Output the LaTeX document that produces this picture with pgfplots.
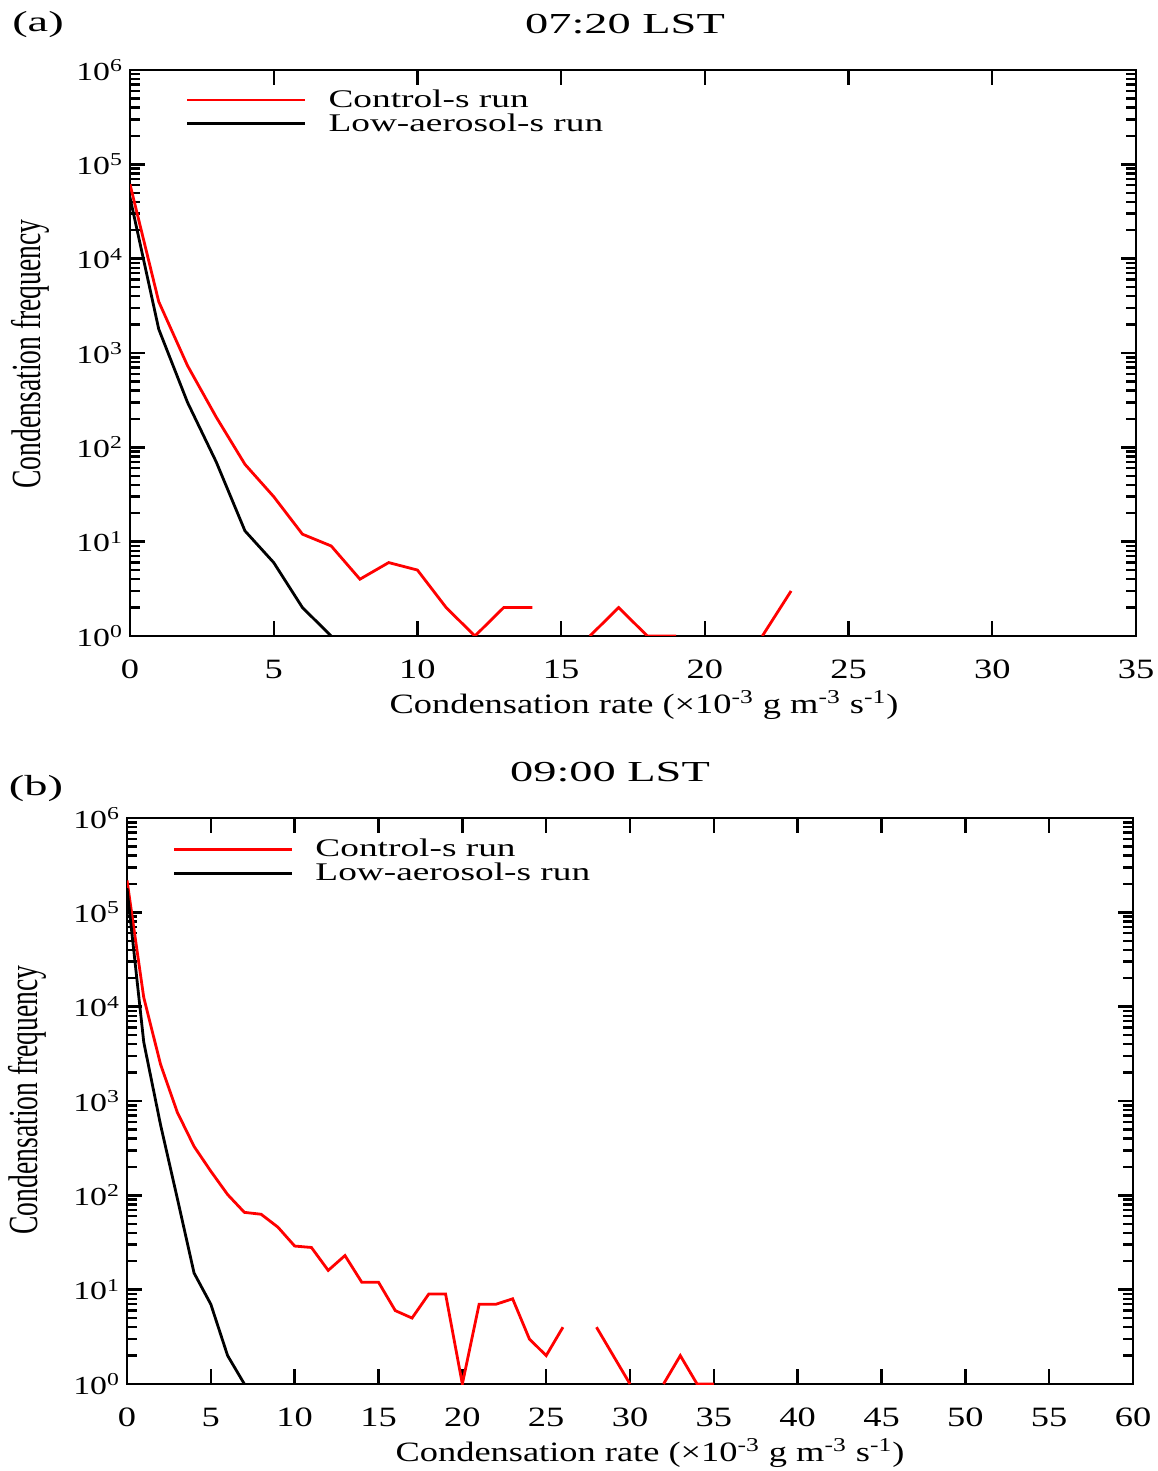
\documentclass[border=0pt]{standalone}
\usepackage{fontspec}
\setmainfont{Liberation Serif}[FakeStretch=1.3]
\newfontfamily\legfont{Liberation Serif}[FakeStretch=1.47]
\newfontfamily\titfont{Liberation Serif}[FakeStretch=1.6]
\newfontfamily\plainserif{Liberation Serif}
\usepackage{graphicx}
\usepackage{pgfplots}
\pgfplotsset{compat=1.18}
\pgfplotsset{
  legend image code/.code={\draw[#1] (0pt,0pt) -- (59pt,0pt);},
}
\begin{document}
\begin{tikzpicture}
\path[use as bounding box] (0,0) rectangle (578.5pt,735.5pt);
% Panel (a)
\begin{axis}[
    ymode=log, ymin=1, ymax=1e6,
    scale only axis, width=503pt, height=283pt,
    anchor=south west, at={(65pt,417.5pt)},
    xmin=0, xmax=35, xtick={0,5,...,35},
    axis line style={line width=1.4pt},
    tick style={line width=1.2pt, black},
    major tick length=7.5pt, minor tick length=5pt,
    tick align=inside,
    ytick={1,10,100,1000,10000,100000,1000000},
    yticklabels={10\textsuperscript{0},10\textsuperscript{1},10\textsuperscript{2},10\textsuperscript{3},10\textsuperscript{4},10\textsuperscript{5},10\textsuperscript{6}},
    xticklabel={\pgfmathprintnumber[assume math mode=true]{\tick}},
    xticklabel style={font=\fontsize{14}{16}\selectfont, yshift=-8.5pt},
    yticklabel style={font=\fontsize{13}{15}\selectfont},
    unbounded coords=jump,
    legend cell align=left,
    legend style={draw=none, fill=none, inner sep=0pt, row sep=1.6pt,
      font=\legfont\fontsize{12.7}{14}\selectfont,
      nodes={inner sep=0pt},
      /tikz/every odd column/.append style={column sep=11pt},
      at={(0.055,0.966)}, anchor=north west},
  ]
\addplot[red, line width=1.4pt] coordinates {
(0,61500) (1,3500) (2,735) (3,209) (4,66) (5,30) (6,12) (7,9) (8,4) (9,6)
(10,5) (11,2) (12,1) (13,2) (14,2) (15,nan) (16,1) (17,2) (18,1) (19,1)
(20,nan) (21,nan) (22,1) (23,3)};
\addlegendentry{Control-s run}
\addplot[black, line width=1.4pt] coordinates {
(0,44500) (1,1790) (2,300) (3,70) (4,13) (5,6) (6,2) (7,1)};
\addlegendentry{Low-aerosol-s run}
\end{axis}
% Panel (b)
\begin{axis}[
    ymode=log, ymin=1, ymax=1e6,
    scale only axis, width=503pt, height=283pt,
    anchor=south west, at={(63.5pt,43.5pt)},
    xmin=0, xmax=60, xtick={0,5,...,60},
    axis line style={line width=1.4pt},
    tick style={line width=1.2pt, black},
    major tick length=7.5pt, minor tick length=5pt,
    tick align=inside,
    ytick={1,10,100,1000,10000,100000,1000000},
    yticklabels={10\textsuperscript{0},10\textsuperscript{1},10\textsuperscript{2},10\textsuperscript{3},10\textsuperscript{4},10\textsuperscript{5},10\textsuperscript{6}},
    xticklabel={\pgfmathprintnumber[assume math mode=true]{\tick}},
    xticklabel style={font=\fontsize{14}{16}\selectfont, yshift=-8.5pt},
    yticklabel style={font=\fontsize{13}{15}\selectfont},
    unbounded coords=jump,
    legend cell align=left,
    legend style={draw=none, fill=none, inner sep=0pt, row sep=1.6pt,
      font=\legfont\fontsize{12.7}{14}\selectfont,
      nodes={inner sep=0pt},
      /tikz/every odd column/.append style={column sep=11pt},
      at={(0.045,0.963)}, anchor=north west},
  ]
\addplot[red, line width=1.4pt] coordinates {
(0,218000) (1,12500) (2,2450) (3,760) (4,330) (5,180) (6,102) (7,66) (8,63) (9,46)
(10,29) (11,28) (12,16) (13,23) (14,12) (15,12) (16,6) (17,5) (18,9) (19,9)
(20,1) (21,7) (22,7) (23,8) (24,3) (25,2) (26,4) (27,nan) (28,4) (29,2)
(30,1) (31,nan) (32,1) (33,2) (34,1) (35,1)};
\addlegendentry{Control-s run}
\addplot[black, line width=1.4pt] coordinates {
(0,180000) (1,4200) (2,560) (3,93) (4,15) (5,7) (6,2) (7,1)};
\addlegendentry{Low-aerosol-s run}
\end{axis}
% titles and labels
\node[font=\titfont\fontsize{14.5}{16}\selectfont] at (19pt,723pt) {(a)};
\node[font=\titfont\fontsize{14.5}{16}\selectfont] at (312.5pt,723.5pt) {07:20 LST};
\node[font=\titfont\fontsize{14.5}{16}\selectfont] at (18pt,341pt) {(b)};
\node[font=\titfont\fontsize{14.5}{16}\selectfont] at (305pt,349.5pt) {09:00 LST};
\node[font=\fontsize{14}{16}\selectfont] at (322pt,383pt) {Condensation rate (×10\textsuperscript{-3} g m\textsuperscript{-3} s\textsuperscript{-1})};
\node[font=\fontsize{14}{16}\selectfont] at (325pt,9pt) {Condensation rate (×10\textsuperscript{-3} g m\textsuperscript{-3} s\textsuperscript{-1})};
\node[rotate=90] at (15pt,558.5pt) {\plainserif\fontsize{13.8}{15}\selectfont\scalebox{1}[1.5]{Condensation frequency}};
\node[rotate=90] at (13.5pt,185.5pt) {\plainserif\fontsize{13.8}{15}\selectfont\scalebox{1}[1.5]{Condensation frequency}};
\end{tikzpicture}
\end{document}
